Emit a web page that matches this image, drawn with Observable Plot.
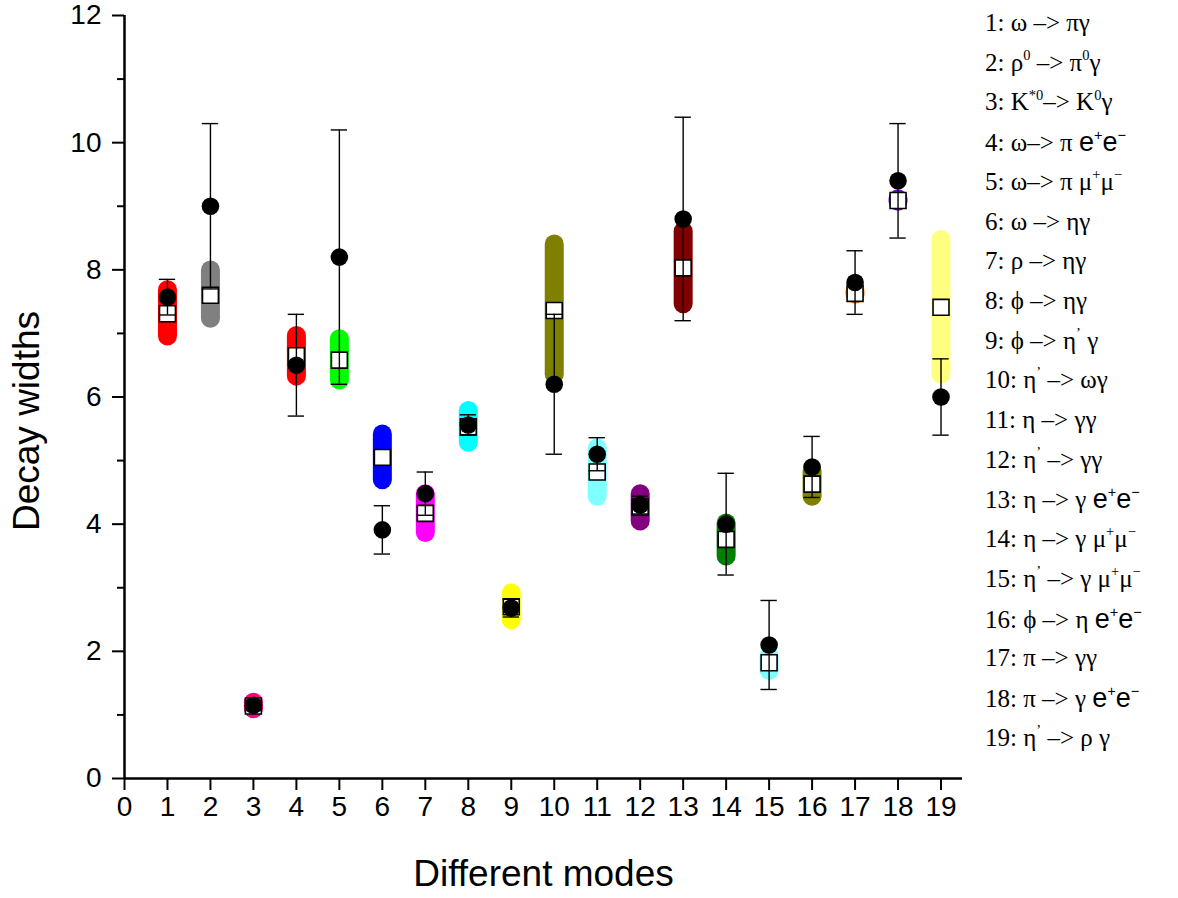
<!DOCTYPE html>
<html><head><meta charset="utf-8">
<script src="https://cdn.jsdelivr.net/npm/d3@7"></script>
<script src="https://cdn.jsdelivr.net/npm/@observablehq/plot@0.6"></script>
<style>
body{margin:0;background:#fff;}
#wrap{position:relative;width:1178px;height:898px;overflow:hidden;}
#legend{position:absolute;left:985px;top:0;font-family:"Liberation Serif","Times New Roman",serif;font-size:25px;color:#000;}
#legend div{position:absolute;left:0;white-space:nowrap;line-height:1;}
#legend .s{font-family:"Liberation Sans",Arial,sans-serif;font-size:27px;}
#legend sup{font-size:58%;vertical-align:0;position:relative;top:-0.75em;}
#legend .s sup{font-size:54%;}
</style></head>
<body><div id="wrap"><div id="chart"></div><div id="legend"></div></div>
<script>
// ---- data ----
const modes = [1,2,3,4,5,6,7,8,9,10,11,12,13,14,15,16,17,18,19];
// theoretical band (lower / upper end of the band) and central value (open square)
const theoLo  = [6.95,7.23,1.09,6.32,6.26,4.69,3.86,5.28,2.49,6.35,4.43,4.04,7.46,3.49,1.69,4.43,7.61,9.07,6.35];
const theoHi  = [7.68,7.99,1.19,6.96,6.91,5.41,4.47,5.78,2.91,8.40,5.19,4.47,8.60,4.01,1.92,4.83,7.65,9.11,8.47];
const theoVal = [7.31,7.60,1.14,6.65,6.58,5.05,4.17,5.53,2.70,7.36,4.82,4.27,8.03,3.76,1.82,4.63,7.63,9.09,7.41];
// experimental values (filled dots) and their errors
const expVal  = [7.57,9.00,1.15,6.50,8.20,3.91,4.48,5.56,2.68,6.20,5.10,4.30,8.80,4.00,2.10,4.90,7.80,9.40,6.00];
const expErr  = [0.28,1.30,0.08,0.80,2.00,0.38,0.34,0.16,0.14,1.10,0.26,0.14,1.60,0.80,0.70,0.48,0.50,0.90,0.60];
const bandColors = ["#ff0000","#808080","#ff0080","#ff0000","#00ff00","#0000ff","#ff00ff","#00ffff","#ffff00","#808000",
                    "#80ffff","#800080","#800000","#008000","#80ffff","#808000","#ff8000","#8000ff","#ffff80"];
const xTicks = [0,1,2,3,4,5,6,7,8,9,10,11,12,13,14,15,16,17,18,19];
const yMajor = [0,2,4,6,8,10,12];
const yMinor = [1,3,5,7,9,11];
const xLabel = "Different modes";
const yLabel = "Decay widths";
const legendLabels = [
  '1: ω –> πγ',
  '2: ρ<sup>0</sup> –> π<sup>0</sup>γ',
  '3: K<sup>*0</sup>–> K<sup>0</sup>γ',
  '4: ω–> π <span class="s">e<sup>+</sup>e<sup>−</sup></span>',
  '5: ω–> π μ<sup>+</sup>μ<sup>−</sup>',
  '6: ω –> ηγ',
  '7: ρ –> ηγ',
  '8: ϕ –> ηγ',
  '9: ϕ –> η<sup>’</sup> γ',
  '10: η<sup>’</sup> –> ωγ',
  '11: η –> γγ',
  '12: η<sup>’</sup> –> γγ',
  '13: η –> γ <span class="s">e<sup>+</sup>e<sup>−</sup></span>',
  '14: η –> γ μ<sup>+</sup>μ<sup>−</sup>',
  '15: η<sup>’</sup> –> γ μ<sup>+</sup>μ<sup>−</sup>',
  '16: ϕ –> η <span class="s">e<sup>+</sup>e<sup>−</sup></span>',
  '17: π –> γγ',
  '18: π –> γ <span class="s">e<sup>+</sup>e<sup>−</sup></span>',
  '19: η<sup>’</sup> –> ρ γ'
];

const data = modes.map((m,i)=>({mode:m, lo:theoLo[i], hi:theoHi[i], th:theoVal[i],
  ex:expVal[i], er:expErr[i], color:bandColors[i]}));

const capHalf = 0.19; // half-width of error-bar caps, in x units
const chart = Plot.plot({
  width:1178, height:898,
  marginLeft:124, marginRight:216, marginTop:15, marginBottom:120,
  style:{fontFamily:'"Liberation Sans",Arial,sans-serif', background:"#fff", color:"#000", overflow:"visible"},
  x:{domain:[0,19.5]},
  y:{domain:[0,12]},
  color:{type:"identity"},
  marks:[
    Plot.ruleX(data,{x:"mode",y1:"lo",y2:"hi",stroke:"color",strokeWidth:19,strokeLinecap:"round"}),
    Plot.dot(data,{x:"mode",y:"th",symbol:"square",r:9,fill:"white",stroke:"black",strokeWidth:1.6}),
    Plot.ruleX(data,{x:"mode",y1:d=>d.ex-d.er,y2:d=>d.ex+d.er,stroke:"black",strokeWidth:1.4}),
    Plot.ruleY(data,{y:d=>d.ex+d.er,x1:d=>d.mode-capHalf,x2:d=>d.mode+capHalf,stroke:"black",strokeWidth:1.4}),
    Plot.ruleY(data,{y:d=>d.ex-d.er,x1:d=>d.mode-capHalf,x2:d=>d.mode+capHalf,stroke:"black",strokeWidth:1.4}),
    Plot.dot(data,{x:"mode",y:"ex",r:8.8,fill:"black"}),
    Plot.ruleX([0],{stroke:"black",strokeWidth:2.5}),
    Plot.ruleY([0],{stroke:"black",strokeWidth:2.5}),
    Plot.axisX(xTicks,{tickSize:12,tickPadding:6,fontSize:28,strokeWidth:2,tickFormat:d=>String(d),label:null}),
    Plot.axisY(yMajor,{tickSize:12,tickPadding:11,fontSize:28,strokeWidth:2,tickFormat:d=>String(d),label:null}),
    Plot.axisY(yMinor,{tickSize:7,tickFormat:()=>"",strokeWidth:2,label:null}),
    Plot.text([xLabel],{text:d=>d,frameAnchor:"bottom",lineAnchor:"middle",dy:96,fontSize:37,fill:"black"}),
    Plot.text([yLabel],{text:d=>d,frameAnchor:"left",textAnchor:"middle",lineAnchor:"middle",dx:-97,dy:24,rotate:-90,fontSize:37,fill:"black"})
  ]
});
document.getElementById("chart").appendChild(chart);

const legend = document.getElementById("legend");
legendLabels.forEach((html,i)=>{
  const div = document.createElement("div");
  div.innerHTML = html;
  div.style.top = (10 + i*39.7) + "px";
  legend.appendChild(div);
});
</script>
</body></html>
